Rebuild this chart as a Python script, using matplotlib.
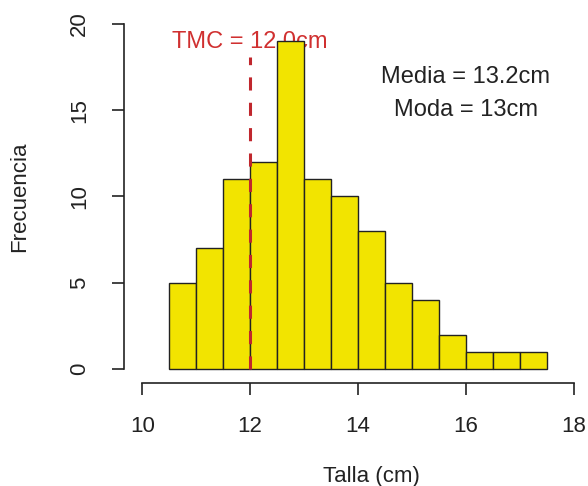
import matplotlib.pyplot as plt

plt.rcParams['font.family'] = ['Liberation Sans', 'DejaVu Sans']

# Histogram bins (cm) and counts
bin_edges = [10.5, 11.0, 11.5, 12.0, 12.5, 13.0, 13.5, 14.0, 14.5, 15.0, 15.5, 16.0, 16.5, 17.0, 17.5]
counts = [5, 7, 11, 12, 19, 11, 10, 8, 5, 4, 2, 1, 1, 1]
x_ticks = [10, 12, 14, 16, 18]
y_ticks = [0, 5, 10, 15, 20]
tmc = 12.0

fig = plt.figure(figsize=(5.88, 4.86), dpi=100)
ax = fig.add_axes([124 / 588, 103 / 486, (591 - 124) / 588, (383 - 10) / 486])

lefts = bin_edges[:-1]
widths = [b - a for a, b in zip(bin_edges[:-1], bin_edges[1:])]
ax.bar(lefts, counts, width=widths, align='edge', color='#f2e400',
       edgecolor='#222222', linewidth=1.0, zorder=2)

ax.plot([tmc, tmc], [0, 18.1], color='#c0272d', linewidth=2.2,
        linestyle=(0, (4.3, 4.0)), zorder=3)
ax.text(tmc, 18.95, 'TMC = 12.0cm', color='#d03030', fontsize=17,
        ha='center', va='center', zorder=1)
ax.text(16.0, 16.9, 'Media = 13.2cm', color='#222222', fontsize=17,
        ha='center', va='center')
ax.text(16.0, 15.0, 'Moda = 13cm', color='#222222', fontsize=17,
        ha='center', va='center')

ax.set_xlim(9.66, 18.32)
ax.set_ylim(-0.8, 20.8)
ax.set_xticks(x_ticks)
ax.set_yticks(y_ticks)
ax.set_yticklabels([str(v) for v in y_ticks], rotation=90, va='center')

for side in ['top', 'right']:
    ax.spines[side].set_visible(False)
ax.spines['bottom'].set_bounds(10, 18)
ax.spines['left'].set_bounds(0, 20)
for side in ['bottom', 'left']:
    ax.spines[side].set_color('#222222')
    ax.spines[side].set_linewidth(1.2)
ax.tick_params(direction='out', length=8.6, width=1.2, color='#222222',
               labelsize=16, labelcolor='#222222')
ax.tick_params(axis='x', pad=15)
ax.tick_params(axis='y', pad=16)

ax.set_xlabel('Talla (cm)', fontsize=16, color='#222222', labelpad=21, x=0.529)
ax.set_ylabel('Frecuencia', fontsize=16, color='#222222', labelpad=28)

fig.savefig('out.png', dpi=100)
